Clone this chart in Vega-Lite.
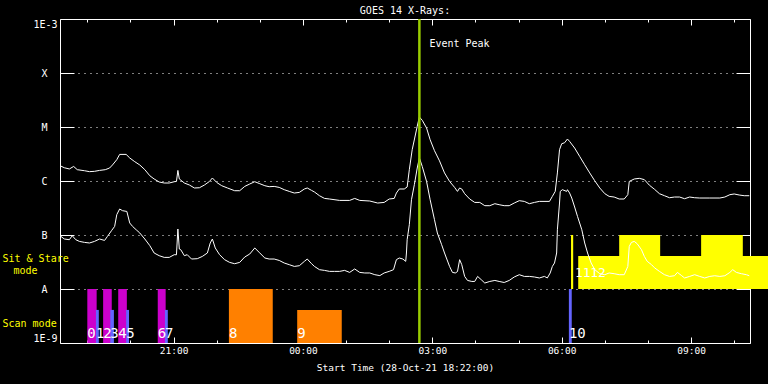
{
"$schema": "https://vega.github.io/schema/vega-lite/v6.json",
"autosize": {"type": "none"},
"padding": {"left": 60, "top": 19, "right": 18, "bottom": 41},
"width": 690,
"height": 324,
"background": "black",
"config": {
  "view": {"stroke": null},
  "axis": {"domainColor": "white", "tickColor": "white", "labelColor": "white", "titleColor": "white", "labelFont": "DejaVu Sans Mono", "titleFont": "DejaVu Sans Mono", "labelFontSize": 10, "titleFontSize": 9.5, "titleFontWeight": "normal", "grid": false, "domain": false, "labels": false, "zindex": 1, "tickWidth": 1, "domainWidth": 1, "title": null}
},
"title": {"text": "GOES 14 X-Rays:", "color": "white", "font": "DejaVu Sans Mono", "fontSize": 10, "fontWeight": "normal", "anchor": "middle", "frame": "group", "offset": 2},
"datasets": {
  "obs": [
    {"n": 0, "mode": "scan", "kind": "raster", "start": "2021-10-28T19:00Z", "end": "2021-10-28T19:13Z", "lo": 1e-9, "hi": 1e-8},
    {"n": 2, "mode": "scan", "kind": "raster", "start": "2021-10-28T19:22Z", "end": "2021-10-28T19:34Z", "lo": 1e-9, "hi": 1e-8},
    {"n": 4, "mode": "scan", "kind": "raster", "start": "2021-10-28T19:43Z", "end": "2021-10-28T19:55Z", "lo": 1e-9, "hi": 1e-8},
    {"n": 6, "mode": "scan", "kind": "raster", "start": "2021-10-28T20:38Z", "end": "2021-10-28T20:49Z", "lo": 1e-9, "hi": 1e-8},
    {"n": 1, "mode": "scan", "kind": "slit", "start": "2021-10-28T19:12Z", "end": "2021-10-28T19:16Z", "lo": 1e-9, "hi": 4.1e-9},
    {"n": 3, "mode": "scan", "kind": "slit", "start": "2021-10-28T19:32Z", "end": "2021-10-28T19:37Z", "lo": 1e-9, "hi": 4.1e-9},
    {"n": 5, "mode": "scan", "kind": "slit", "start": "2021-10-28T19:54Z", "end": "2021-10-28T19:58Z", "lo": 1e-9, "hi": 4.1e-9},
    {"n": 7, "mode": "scan", "kind": "slit", "start": "2021-10-28T20:48Z", "end": "2021-10-28T20:52Z", "lo": 1e-9, "hi": 4.1e-9},
    {"n": 8, "mode": "scan", "kind": "large raster", "start": "2021-10-28T22:17Z", "end": "2021-10-28T23:18Z", "lo": 1e-9, "hi": 1e-8},
    {"n": 9, "mode": "scan", "kind": "large raster", "start": "2021-10-28T23:52Z", "end": "2021-10-29T00:54Z", "lo": 1e-9, "hi": 4.1e-9},
    {"n": 10, "mode": "scan", "kind": "slit", "start": "2021-10-29T06:10Z", "end": "2021-10-29T06:14Z", "lo": 1e-9, "hi": 1e-8},
    {"n": 11, "mode": "sit", "kind": "sit-and-stare", "start": "2021-10-29T06:13Z", "end": "2021-10-29T06:16Z", "lo": 1e-8, "hi": 1e-7},
    {"n": 12, "mode": "sit", "kind": "sit-and-stare", "start": "2021-10-29T06:23Z", "end": "2021-10-29T11:30Z", "lo": 1e-8, "hi": 4.1e-8},
    {"n": null, "mode": "sit", "kind": "sit-and-stare", "start": "2021-10-29T07:20Z", "end": "2021-10-29T08:17Z", "lo": 1e-8, "hi": 1e-7},
    {"n": null, "mode": "sit", "kind": "sit-and-stare", "start": "2021-10-29T09:14Z", "end": "2021-10-29T10:12Z", "lo": 1e-8, "hi": 1e-7}
  ],
  "event": [{"time": "2021-10-29T02:42Z", "label": "Event Peak"}],
  "goes": [
    {"channel": "long", "time": "2021-10-28T18:22Z", "flux": 1.92e-6},
    {"channel": "long", "time": "2021-10-28T18:28Z", "flux": 1.76e-6},
    {"channel": "long", "time": "2021-10-28T18:35Z", "flux": 1.67e-6},
    {"channel": "long", "time": "2021-10-28T18:41Z", "flux": 1.86e-6},
    {"channel": "long", "time": "2021-10-28T18:46Z", "flux": 1.62e-6},
    {"channel": "long", "time": "2021-10-28T18:56Z", "flux": 1.55e-6},
    {"channel": "long", "time": "2021-10-28T19:03Z", "flux": 1.49e-6},
    {"channel": "long", "time": "2021-10-28T19:10Z", "flux": 1.51e-6},
    {"channel": "long", "time": "2021-10-28T19:17Z", "flux": 1.57e-6},
    {"channel": "long", "time": "2021-10-28T19:25Z", "flux": 1.62e-6},
    {"channel": "long", "time": "2021-10-28T19:31Z", "flux": 1.74e-6},
    {"channel": "long", "time": "2021-10-28T19:35Z", "flux": 1.98e-6},
    {"channel": "long", "time": "2021-10-28T19:41Z", "flux": 2.48e-6},
    {"channel": "long", "time": "2021-10-28T19:45Z", "flux": 3.11e-6},
    {"channel": "long", "time": "2021-10-28T19:54Z", "flux": 3.11e-6},
    {"channel": "long", "time": "2021-10-28T19:59Z", "flux": 2.67e-6},
    {"channel": "long", "time": "2021-10-28T20:06Z", "flux": 2.28e-6},
    {"channel": "long", "time": "2021-10-28T20:13Z", "flux": 1.98e-6},
    {"channel": "long", "time": "2021-10-28T20:20Z", "flux": 1.62e-6},
    {"channel": "long", "time": "2021-10-28T20:27Z", "flux": 1.25e-6},
    {"channel": "long", "time": "2021-10-28T20:33Z", "flux": 1.09e-6},
    {"channel": "long", "time": "2021-10-28T20:40Z", "flux": 9.58e-7},
    {"channel": "long", "time": "2021-10-28T20:47Z", "flux": 9.18e-7},
    {"channel": "long", "time": "2021-10-28T20:54Z", "flux": 9.18e-7},
    {"channel": "long", "time": "2021-10-28T21:01Z", "flux": 9.7e-7},
    {"channel": "long", "time": "2021-10-28T21:04Z", "flux": 9.8e-7},
    {"channel": "long", "time": "2021-10-28T21:06Z", "flux": 1.57e-6},
    {"channel": "long", "time": "2021-10-28T21:08Z", "flux": 1.09e-6},
    {"channel": "long", "time": "2021-10-28T21:15Z", "flux": 9.18e-7},
    {"channel": "long", "time": "2021-10-28T21:22Z", "flux": 8.43e-7},
    {"channel": "long", "time": "2021-10-28T21:29Z", "flux": 7.42e-7},
    {"channel": "long", "time": "2021-10-28T21:36Z", "flux": 7.5e-7},
    {"channel": "long", "time": "2021-10-28T21:43Z", "flux": 8.43e-7},
    {"channel": "long", "time": "2021-10-28T21:50Z", "flux": 9.83e-7},
    {"channel": "long", "time": "2021-10-28T21:54Z", "flux": 1.137e-6},
    {"channel": "long", "time": "2021-10-28T22:00Z", "flux": 9.4e-7},
    {"channel": "long", "time": "2021-10-28T22:07Z", "flux": 8.18e-7},
    {"channel": "long", "time": "2021-10-28T22:15Z", "flux": 7.42e-7},
    {"channel": "long", "time": "2021-10-28T22:25Z", "flux": 6.61e-7},
    {"channel": "long", "time": "2021-10-28T22:32Z", "flux": 6.61e-7},
    {"channel": "long", "time": "2021-10-28T22:39Z", "flux": 7.94e-7},
    {"channel": "long", "time": "2021-10-28T22:46Z", "flux": 8.8e-7},
    {"channel": "long", "time": "2021-10-28T22:53Z", "flux": 9.7e-7},
    {"channel": "long", "time": "2021-10-28T23:00Z", "flux": 8.91e-7},
    {"channel": "long", "time": "2021-10-28T23:07Z", "flux": 8.18e-7},
    {"channel": "long", "time": "2021-10-28T23:13Z", "flux": 7.84e-7},
    {"channel": "long", "time": "2021-10-28T23:20Z", "flux": 7.94e-7},
    {"channel": "long", "time": "2021-10-28T23:27Z", "flux": 7.61e-7},
    {"channel": "long", "time": "2021-10-28T23:34Z", "flux": 6.9e-7},
    {"channel": "long", "time": "2021-10-28T23:41Z", "flux": 6.42e-7},
    {"channel": "long", "time": "2021-10-28T23:48Z", "flux": 5.99e-7},
    {"channel": "long", "time": "2021-10-28T23:55Z", "flux": 6.15e-7},
    {"channel": "long", "time": "2021-10-29T00:02Z", "flux": 7.11e-7},
    {"channel": "long", "time": "2021-10-29T00:06Z", "flux": 7.42e-7},
    {"channel": "long", "time": "2021-10-29T00:12Z", "flux": 6.7e-7},
    {"channel": "long", "time": "2021-10-29T00:16Z", "flux": 6.26e-7},
    {"channel": "long", "time": "2021-10-29T00:23Z", "flux": 5.34e-7},
    {"channel": "long", "time": "2021-10-29T00:30Z", "flux": 4.76e-7},
    {"channel": "long", "time": "2021-10-29T00:37Z", "flux": 4.64e-7},
    {"channel": "long", "time": "2021-10-29T00:51Z", "flux": 4.37e-7},
    {"channel": "long", "time": "2021-10-29T01:05Z", "flux": 4.37e-7},
    {"channel": "long", "time": "2021-10-29T01:12Z", "flux": 4.76e-7},
    {"channel": "long", "time": "2021-10-29T01:19Z", "flux": 4.37e-7},
    {"channel": "long", "time": "2021-10-29T01:33Z", "flux": 4.26e-7},
    {"channel": "long", "time": "2021-10-29T01:44Z", "flux": 3.91e-7},
    {"channel": "long", "time": "2021-10-29T01:53Z", "flux": 4.01e-7},
    {"channel": "long", "time": "2021-10-29T02:00Z", "flux": 4.64e-7},
    {"channel": "long", "time": "2021-10-29T02:07Z", "flux": 4.76e-7},
    {"channel": "long", "time": "2021-10-29T02:10Z", "flux": 5.99e-7},
    {"channel": "long", "time": "2021-10-29T02:14Z", "flux": 7.11e-7},
    {"channel": "long", "time": "2021-10-29T02:21Z", "flux": 7.11e-7},
    {"channel": "long", "time": "2021-10-29T02:25Z", "flux": 7.74e-7},
    {"channel": "long", "time": "2021-10-29T02:28Z", "flux": 1.62e-6},
    {"channel": "long", "time": "2021-10-29T02:32Z", "flux": 3.8e-6},
    {"channel": "long", "time": "2021-10-29T02:37Z", "flux": 7.74e-6},
    {"channel": "long", "time": "2021-10-29T02:39Z", "flux": 1.03e-5},
    {"channel": "long", "time": "2021-10-29T02:42Z", "flux": 1.53e-5},
    {"channel": "long", "time": "2021-10-29T02:46Z", "flux": 1.33e-5},
    {"channel": "long", "time": "2021-10-29T02:52Z", "flux": 9.58e-6},
    {"channel": "long", "time": "2021-10-29T02:57Z", "flux": 5.8e-6},
    {"channel": "long", "time": "2021-10-29T03:03Z", "flux": 3.64e-6},
    {"channel": "long", "time": "2021-10-29T03:10Z", "flux": 2.36e-6},
    {"channel": "long", "time": "2021-10-29T03:17Z", "flux": 1.41e-6},
    {"channel": "long", "time": "2021-10-29T03:24Z", "flux": 9.83e-7},
    {"channel": "long", "time": "2021-10-29T03:31Z", "flux": 7.61e-7},
    {"channel": "long", "time": "2021-10-29T03:35Z", "flux": 6.42e-7},
    {"channel": "long", "time": "2021-10-29T03:38Z", "flux": 7.42e-7},
    {"channel": "long", "time": "2021-10-29T03:41Z", "flux": 7.11e-7},
    {"channel": "long", "time": "2021-10-29T03:45Z", "flux": 5.82e-7},
    {"channel": "long", "time": "2021-10-29T03:52Z", "flux": 4.64e-7},
    {"channel": "long", "time": "2021-10-29T03:59Z", "flux": 4.01e-7},
    {"channel": "long", "time": "2021-10-29T04:06Z", "flux": 4.01e-7},
    {"channel": "long", "time": "2021-10-29T04:13Z", "flux": 3.49e-7},
    {"channel": "long", "time": "2021-10-29T04:20Z", "flux": 3.49e-7},
    {"channel": "long", "time": "2021-10-29T04:27Z", "flux": 3.8e-7},
    {"channel": "long", "time": "2021-10-29T04:33Z", "flux": 3.64e-7},
    {"channel": "long", "time": "2021-10-29T04:40Z", "flux": 3.49e-7},
    {"channel": "long", "time": "2021-10-29T04:47Z", "flux": 3.49e-7},
    {"channel": "long", "time": "2021-10-29T04:54Z", "flux": 3.91e-7},
    {"channel": "long", "time": "2021-10-29T05:01Z", "flux": 4.32e-7},
    {"channel": "long", "time": "2021-10-29T05:08Z", "flux": 4.19e-7},
    {"channel": "long", "time": "2021-10-29T05:15Z", "flux": 3.8e-7},
    {"channel": "long", "time": "2021-10-29T05:22Z", "flux": 4.01e-7},
    {"channel": "long", "time": "2021-10-29T05:29Z", "flux": 4.19e-7},
    {"channel": "long", "time": "2021-10-29T05:43Z", "flux": 4.19e-7},
    {"channel": "long", "time": "2021-10-29T05:47Z", "flux": 5.19e-7},
    {"channel": "long", "time": "2021-10-29T05:51Z", "flux": 6.42e-7},
    {"channel": "long", "time": "2021-10-29T05:54Z", "flux": 1.41e-6},
    {"channel": "long", "time": "2021-10-29T05:57Z", "flux": 3.8e-6},
    {"channel": "long", "time": "2021-10-29T06:00Z", "flux": 4.9e-6},
    {"channel": "long", "time": "2021-10-29T06:04Z", "flux": 5.1e-6},
    {"channel": "long", "time": "2021-10-29T06:08Z", "flux": 5.99e-6},
    {"channel": "long", "time": "2021-10-29T06:11Z", "flux": 5.41e-6},
    {"channel": "long", "time": "2021-10-29T06:18Z", "flux": 4.08e-6},
    {"channel": "long", "time": "2021-10-29T06:25Z", "flux": 2.86e-6},
    {"channel": "long", "time": "2021-10-29T06:32Z", "flux": 2.0e-6},
    {"channel": "long", "time": "2021-10-29T06:39Z", "flux": 1.41e-6},
    {"channel": "long", "time": "2021-10-29T06:46Z", "flux": 1.01e-6},
    {"channel": "long", "time": "2021-10-29T06:53Z", "flux": 7.42e-7},
    {"channel": "long", "time": "2021-10-29T07:00Z", "flux": 5.82e-7},
    {"channel": "long", "time": "2021-10-29T07:06Z", "flux": 5.19e-7},
    {"channel": "long", "time": "2021-10-29T07:13Z", "flux": 5.05e-7},
    {"channel": "long", "time": "2021-10-29T07:20Z", "flux": 4.64e-7},
    {"channel": "long", "time": "2021-10-29T07:27Z", "flux": 4.64e-7},
    {"channel": "long", "time": "2021-10-29T07:32Z", "flux": 5.58e-7},
    {"channel": "long", "time": "2021-10-29T07:34Z", "flux": 9.83e-7},
    {"channel": "long", "time": "2021-10-29T07:41Z", "flux": 1.09e-6},
    {"channel": "long", "time": "2021-10-29T07:48Z", "flux": 1.12e-6},
    {"channel": "long", "time": "2021-10-29T07:55Z", "flux": 1.06e-6},
    {"channel": "long", "time": "2021-10-29T08:02Z", "flux": 8.36e-7},
    {"channel": "long", "time": "2021-10-29T08:09Z", "flux": 7.05e-7},
    {"channel": "long", "time": "2021-10-29T08:16Z", "flux": 5.82e-7},
    {"channel": "long", "time": "2021-10-29T08:23Z", "flux": 5.34e-7},
    {"channel": "long", "time": "2021-10-29T08:30Z", "flux": 4.9e-7},
    {"channel": "long", "time": "2021-10-29T08:37Z", "flux": 5.05e-7},
    {"channel": "long", "time": "2021-10-29T08:44Z", "flux": 5.05e-7},
    {"channel": "long", "time": "2021-10-29T08:51Z", "flux": 4.7e-7},
    {"channel": "long", "time": "2021-10-29T08:58Z", "flux": 5.05e-7},
    {"channel": "long", "time": "2021-10-29T09:05Z", "flux": 4.9e-7},
    {"channel": "long", "time": "2021-10-29T09:12Z", "flux": 4.84e-7},
    {"channel": "long", "time": "2021-10-29T09:26Z", "flux": 4.84e-7},
    {"channel": "long", "time": "2021-10-29T09:40Z", "flux": 4.84e-7},
    {"channel": "long", "time": "2021-10-29T09:47Z", "flux": 5.05e-7},
    {"channel": "long", "time": "2021-10-29T09:54Z", "flux": 5.58e-7},
    {"channel": "long", "time": "2021-10-29T10:00Z", "flux": 5.75e-7},
    {"channel": "long", "time": "2021-10-29T10:07Z", "flux": 5.5e-7},
    {"channel": "long", "time": "2021-10-29T10:14Z", "flux": 5.34e-7},
    {"channel": "long", "time": "2021-10-29T10:21Z", "flux": 5.34e-7},
    {"channel": "short", "time": "2021-10-28T18:22Z", "flux": 9.7e-8},
    {"channel": "short", "time": "2021-10-28T18:28Z", "flux": 8.43e-8},
    {"channel": "short", "time": "2021-10-28T18:35Z", "flux": 8.18e-8},
    {"channel": "short", "time": "2021-10-28T18:39Z", "flux": 9.7e-8},
    {"channel": "short", "time": "2021-10-28T18:44Z", "flux": 8.18e-8},
    {"channel": "short", "time": "2021-10-28T18:49Z", "flux": 7.61e-8},
    {"channel": "short", "time": "2021-10-28T18:56Z", "flux": 7.3e-8},
    {"channel": "short", "time": "2021-10-28T19:03Z", "flux": 7.11e-8},
    {"channel": "short", "time": "2021-10-28T19:10Z", "flux": 7.61e-8},
    {"channel": "short", "time": "2021-10-28T19:17Z", "flux": 8.43e-8},
    {"channel": "short", "time": "2021-10-28T19:24Z", "flux": 7.94e-8},
    {"channel": "short", "time": "2021-10-28T19:28Z", "flux": 9.42e-8},
    {"channel": "short", "time": "2021-10-28T19:34Z", "flux": 1.22e-7},
    {"channel": "short", "time": "2021-10-28T19:38Z", "flux": 1.44e-7},
    {"channel": "short", "time": "2021-10-28T19:41Z", "flux": 2.38e-7},
    {"channel": "short", "time": "2021-10-28T19:45Z", "flux": 3.03e-7},
    {"channel": "short", "time": "2021-10-28T19:49Z", "flux": 2.82e-7},
    {"channel": "short", "time": "2021-10-28T19:55Z", "flux": 2.73e-7},
    {"channel": "short", "time": "2021-10-28T19:59Z", "flux": 1.67e-7},
    {"channel": "short", "time": "2021-10-28T20:03Z", "flux": 1.44e-7},
    {"channel": "short", "time": "2021-10-28T20:08Z", "flux": 1.25e-7},
    {"channel": "short", "time": "2021-10-28T20:13Z", "flux": 1.09e-7},
    {"channel": "short", "time": "2021-10-28T20:20Z", "flux": 8.43e-8},
    {"channel": "short", "time": "2021-10-28T20:27Z", "flux": 6.34e-8},
    {"channel": "short", "time": "2021-10-28T20:33Z", "flux": 4.64e-8},
    {"channel": "short", "time": "2021-10-28T20:40Z", "flux": 4.14e-8},
    {"channel": "short", "time": "2021-10-28T20:47Z", "flux": 3.85e-8},
    {"channel": "short", "time": "2021-10-28T20:54Z", "flux": 3.85e-8},
    {"channel": "short", "time": "2021-10-28T21:01Z", "flux": 4.32e-8},
    {"channel": "short", "time": "2021-10-28T21:04Z", "flux": 4.3e-8},
    {"channel": "short", "time": "2021-10-28T21:06Z", "flux": 1.29e-7},
    {"channel": "short", "time": "2021-10-28T21:08Z", "flux": 5.5e-8},
    {"channel": "short", "time": "2021-10-28T21:10Z", "flux": 5.34e-8},
    {"channel": "short", "time": "2021-10-28T21:15Z", "flux": 4.14e-8},
    {"channel": "short", "time": "2021-10-28T21:19Z", "flux": 4.32e-8},
    {"channel": "short", "time": "2021-10-28T21:25Z", "flux": 3.59e-8},
    {"channel": "short", "time": "2021-10-28T21:33Z", "flux": 3.64e-8},
    {"channel": "short", "time": "2021-10-28T21:40Z", "flux": 4.01e-8},
    {"channel": "short", "time": "2021-10-28T21:47Z", "flux": 4.64e-8},
    {"channel": "short", "time": "2021-10-28T21:51Z", "flux": 7.11e-8},
    {"channel": "short", "time": "2021-10-28T21:54Z", "flux": 8.43e-8},
    {"channel": "short", "time": "2021-10-28T21:58Z", "flux": 5.75e-8},
    {"channel": "short", "time": "2021-10-28T22:04Z", "flux": 4.32e-8},
    {"channel": "short", "time": "2021-10-28T22:11Z", "flux": 3.49e-8},
    {"channel": "short", "time": "2021-10-28T22:18Z", "flux": 3.11e-8},
    {"channel": "short", "time": "2021-10-28T22:25Z", "flux": 2.94e-8},
    {"channel": "short", "time": "2021-10-28T22:32Z", "flux": 3.11e-8},
    {"channel": "short", "time": "2021-10-28T22:39Z", "flux": 3.91e-8},
    {"channel": "short", "time": "2021-10-28T22:46Z", "flux": 4.45e-8},
    {"channel": "short", "time": "2021-10-28T22:53Z", "flux": 5.75e-8},
    {"channel": "short", "time": "2021-10-28T23:00Z", "flux": 4.64e-8},
    {"channel": "short", "time": "2021-10-28T23:07Z", "flux": 3.75e-8},
    {"channel": "short", "time": "2021-10-28T23:13Z", "flux": 3.59e-8},
    {"channel": "short", "time": "2021-10-28T23:20Z", "flux": 3.59e-8},
    {"channel": "short", "time": "2021-10-28T23:27Z", "flux": 3.38e-8},
    {"channel": "short", "time": "2021-10-28T23:34Z", "flux": 3.03e-8},
    {"channel": "short", "time": "2021-10-28T23:41Z", "flux": 2.82e-8},
    {"channel": "short", "time": "2021-10-28T23:48Z", "flux": 2.62e-8},
    {"channel": "short", "time": "2021-10-28T23:55Z", "flux": 2.7e-8},
    {"channel": "short", "time": "2021-10-29T00:02Z", "flux": 3.25e-8},
    {"channel": "short", "time": "2021-10-29T00:06Z", "flux": 3.59e-8},
    {"channel": "short", "time": "2021-10-29T00:12Z", "flux": 2.94e-8},
    {"channel": "short", "time": "2021-10-29T00:16Z", "flux": 2.62e-8},
    {"channel": "short", "time": "2021-10-29T00:23Z", "flux": 2.28e-8},
    {"channel": "short", "time": "2021-10-29T00:30Z", "flux": 2.21e-8},
    {"channel": "short", "time": "2021-10-29T00:37Z", "flux": 2.12e-8},
    {"channel": "short", "time": "2021-10-29T00:44Z", "flux": 2.12e-8},
    {"channel": "short", "time": "2021-10-29T00:51Z", "flux": 2.12e-8},
    {"channel": "short", "time": "2021-10-29T00:58Z", "flux": 2.21e-8},
    {"channel": "short", "time": "2021-10-29T01:05Z", "flux": 2.03e-8},
    {"channel": "short", "time": "2021-10-29T01:12Z", "flux": 2.35e-8},
    {"channel": "short", "time": "2021-10-29T01:19Z", "flux": 2.03e-8},
    {"channel": "short", "time": "2021-10-29T01:26Z", "flux": 1.98e-8},
    {"channel": "short", "time": "2021-10-29T01:33Z", "flux": 1.98e-8},
    {"channel": "short", "time": "2021-10-29T01:40Z", "flux": 1.84e-8},
    {"channel": "short", "time": "2021-10-29T01:47Z", "flux": 1.77e-8},
    {"channel": "short", "time": "2021-10-29T01:53Z", "flux": 1.98e-8},
    {"channel": "short", "time": "2021-10-29T02:00Z", "flux": 2.12e-8},
    {"channel": "short", "time": "2021-10-29T02:06Z", "flux": 2.28e-8},
    {"channel": "short", "time": "2021-10-29T02:10Z", "flux": 3.49e-8},
    {"channel": "short", "time": "2021-10-29T02:14Z", "flux": 3.75e-8},
    {"channel": "short", "time": "2021-10-29T02:19Z", "flux": 3.59e-8},
    {"channel": "short", "time": "2021-10-29T02:23Z", "flux": 3.25e-8},
    {"channel": "short", "time": "2021-10-29T02:24Z", "flux": 4.64e-8},
    {"channel": "short", "time": "2021-10-29T02:25Z", "flux": 8.18e-8},
    {"channel": "short", "time": "2021-10-29T02:28Z", "flux": 1.55e-7},
    {"channel": "short", "time": "2021-10-29T02:31Z", "flux": 4.5e-7},
    {"channel": "short", "time": "2021-10-29T02:35Z", "flux": 8.55e-7},
    {"channel": "short", "time": "2021-10-29T02:39Z", "flux": 1.74e-6},
    {"channel": "short", "time": "2021-10-29T02:42Z", "flux": 2.67e-6},
    {"channel": "short", "time": "2021-10-29T02:46Z", "flux": 1.86e-6},
    {"channel": "short", "time": "2021-10-29T02:52Z", "flux": 9.82e-7},
    {"channel": "short", "time": "2021-10-29T02:57Z", "flux": 4.5e-7},
    {"channel": "short", "time": "2021-10-29T03:03Z", "flux": 1.92e-7},
    {"channel": "short", "time": "2021-10-29T03:07Z", "flux": 1.09e-7},
    {"channel": "short", "time": "2021-10-29T03:13Z", "flux": 6.61e-8},
    {"channel": "short", "time": "2021-10-29T03:17Z", "flux": 4.64e-8},
    {"channel": "short", "time": "2021-10-29T03:24Z", "flux": 2.62e-8},
    {"channel": "short", "time": "2021-10-29T03:28Z", "flux": 2.03e-8},
    {"channel": "short", "time": "2021-10-29T03:32Z", "flux": 1.98e-8},
    {"channel": "short", "time": "2021-10-29T03:35Z", "flux": 2.1e-8},
    {"channel": "short", "time": "2021-10-29T03:38Z", "flux": 3.49e-8},
    {"channel": "short", "time": "2021-10-29T03:41Z", "flux": 2.82e-8},
    {"channel": "short", "time": "2021-10-29T03:45Z", "flux": 1.71e-8},
    {"channel": "short", "time": "2021-10-29T03:49Z", "flux": 1.44e-8},
    {"channel": "short", "time": "2021-10-29T03:55Z", "flux": 1.38e-8},
    {"channel": "short", "time": "2021-10-29T03:59Z", "flux": 1.38e-8},
    {"channel": "short", "time": "2021-10-29T04:03Z", "flux": 1.71e-8},
    {"channel": "short", "time": "2021-10-29T04:08Z", "flux": 1.49e-8},
    {"channel": "short", "time": "2021-10-29T04:13Z", "flux": 1.29e-8},
    {"channel": "short", "time": "2021-10-29T04:20Z", "flux": 1.38e-8},
    {"channel": "short", "time": "2021-10-29T04:27Z", "flux": 1.44e-8},
    {"channel": "short", "time": "2021-10-29T04:33Z", "flux": 1.38e-8},
    {"channel": "short", "time": "2021-10-29T04:40Z", "flux": 1.32e-8},
    {"channel": "short", "time": "2021-10-29T04:47Z", "flux": 1.44e-8},
    {"channel": "short", "time": "2021-10-29T04:54Z", "flux": 1.67e-8},
    {"channel": "short", "time": "2021-10-29T05:01Z", "flux": 1.84e-8},
    {"channel": "short", "time": "2021-10-29T05:08Z", "flux": 1.71e-8},
    {"channel": "short", "time": "2021-10-29T05:15Z", "flux": 1.71e-8},
    {"channel": "short", "time": "2021-10-29T05:22Z", "flux": 1.67e-8},
    {"channel": "short", "time": "2021-10-29T05:29Z", "flux": 1.6e-8},
    {"channel": "short", "time": "2021-10-29T05:36Z", "flux": 1.71e-8},
    {"channel": "short", "time": "2021-10-29T05:40Z", "flux": 1.6e-8},
    {"channel": "short", "time": "2021-10-29T05:44Z", "flux": 1.98e-8},
    {"channel": "short", "time": "2021-10-29T05:47Z", "flux": 2.62e-8},
    {"channel": "short", "time": "2021-10-29T05:50Z", "flux": 3.03e-8},
    {"channel": "short", "time": "2021-10-29T05:53Z", "flux": 4.64e-8},
    {"channel": "short", "time": "2021-10-29T05:54Z", "flux": 1.25e-7},
    {"channel": "short", "time": "2021-10-29T05:57Z", "flux": 3.91e-7},
    {"channel": "short", "time": "2021-10-29T05:58Z", "flux": 6.42e-7},
    {"channel": "short", "time": "2021-10-29T06:01Z", "flux": 6.9e-7},
    {"channel": "short", "time": "2021-10-29T06:07Z", "flux": 6.42e-7},
    {"channel": "short", "time": "2021-10-29T06:08Z", "flux": 6.9e-7},
    {"channel": "short", "time": "2021-10-29T06:11Z", "flux": 5.99e-7},
    {"channel": "short", "time": "2021-10-29T06:14Z", "flux": 4.84e-7},
    {"channel": "short", "time": "2021-10-29T06:18Z", "flux": 3.3e-7},
    {"channel": "short", "time": "2021-10-29T06:22Z", "flux": 2.21e-7},
    {"channel": "short", "time": "2021-10-29T06:28Z", "flux": 1.25e-7},
    {"channel": "short", "time": "2021-10-29T06:32Z", "flux": 7.11e-8},
    {"channel": "short", "time": "2021-10-29T06:36Z", "flux": 4.64e-8},
    {"channel": "short", "time": "2021-10-29T06:41Z", "flux": 3.03e-8},
    {"channel": "short", "time": "2021-10-29T06:46Z", "flux": 2.28e-8},
    {"channel": "short", "time": "2021-10-29T06:53Z", "flux": 1.92e-8},
    {"channel": "short", "time": "2021-10-29T07:00Z", "flux": 1.84e-8},
    {"channel": "short", "time": "2021-10-29T07:06Z", "flux": 1.98e-8},
    {"channel": "short", "time": "2021-10-29T07:13Z", "flux": 1.92e-8},
    {"channel": "short", "time": "2021-10-29T07:20Z", "flux": 1.84e-8},
    {"channel": "short", "time": "2021-10-29T07:27Z", "flux": 1.84e-8},
    {"channel": "short", "time": "2021-10-29T07:32Z", "flux": 2.62e-8},
    {"channel": "short", "time": "2021-10-29T07:34Z", "flux": 6.15e-8},
    {"channel": "short", "time": "2021-10-29T07:37Z", "flux": 7.3e-8},
    {"channel": "short", "time": "2021-10-29T07:41Z", "flux": 7.61e-8},
    {"channel": "short", "time": "2021-10-29T07:45Z", "flux": 6.9e-8},
    {"channel": "short", "time": "2021-10-29T07:51Z", "flux": 5.34e-8},
    {"channel": "short", "time": "2021-10-29T07:55Z", "flux": 4.01e-8},
    {"channel": "short", "time": "2021-10-29T07:59Z", "flux": 3.25e-8},
    {"channel": "short", "time": "2021-10-29T08:05Z", "flux": 2.82e-8},
    {"channel": "short", "time": "2021-10-29T08:09Z", "flux": 2.48e-8},
    {"channel": "short", "time": "2021-10-29T08:16Z", "flux": 2.12e-8},
    {"channel": "short", "time": "2021-10-29T08:23Z", "flux": 1.84e-8},
    {"channel": "short", "time": "2021-10-29T08:30Z", "flux": 1.71e-8},
    {"channel": "short", "time": "2021-10-29T08:37Z", "flux": 1.76e-8},
    {"channel": "short", "time": "2021-10-29T08:41Z", "flux": 2.03e-8},
    {"channel": "short", "time": "2021-10-29T08:47Z", "flux": 1.76e-8},
    {"channel": "short", "time": "2021-10-29T08:51Z", "flux": 1.6e-8},
    {"channel": "short", "time": "2021-10-29T08:58Z", "flux": 1.71e-8},
    {"channel": "short", "time": "2021-10-29T09:05Z", "flux": 1.84e-8},
    {"channel": "short", "time": "2021-10-29T09:12Z", "flux": 1.71e-8},
    {"channel": "short", "time": "2021-10-29T09:19Z", "flux": 1.6e-8},
    {"channel": "short", "time": "2021-10-29T09:26Z", "flux": 1.71e-8},
    {"channel": "short", "time": "2021-10-29T09:33Z", "flux": 1.76e-8},
    {"channel": "short", "time": "2021-10-29T09:40Z", "flux": 1.71e-8},
    {"channel": "short", "time": "2021-10-29T09:47Z", "flux": 1.76e-8},
    {"channel": "short", "time": "2021-10-29T09:54Z", "flux": 2.03e-8},
    {"channel": "short", "time": "2021-10-29T09:58Z", "flux": 2.28e-8},
    {"channel": "short", "time": "2021-10-29T10:03Z", "flux": 2.03e-8},
    {"channel": "short", "time": "2021-10-29T10:10Z", "flux": 1.92e-8},
    {"channel": "short", "time": "2021-10-29T10:17Z", "flux": 1.84e-8},
    {"channel": "short", "time": "2021-10-29T10:21Z", "flux": 1.76e-8}
  ]
},
"resolve": {"axis": {"x": "independent", "y": "independent"}},
"layer": [
  {
    "data": {"name": "obs"},
    "mark": {"type": "rect", "clip": false},
    "encoding": {
      "x": {"field": "start", "type": "temporal",
        "scale": {"type": "utc", "nice": false, "domain": [{"year": 2021, "month": 10, "date": 28, "hours": 18, "minutes": 22, "utc": true}, {"year": 2021, "month": 10, "date": 29, "hours": 10, "minutes": 22, "utc": true}]},
        "axis": {"orient": "bottom", "domain": true, "values": [{"year": 2021, "month": 10, "date": 28, "hours": 21, "utc": true}, {"year": 2021, "month": 10, "date": 29, "hours": 0, "utc": true}, {"year": 2021, "month": 10, "date": 29, "hours": 3, "utc": true}, {"year": 2021, "month": 10, "date": 29, "hours": 6, "utc": true}, {"year": 2021, "month": 10, "date": 29, "hours": 9, "utc": true}], "tickSize": -6, "labels": true, "labelFontSize": 9.5, "labelExpr": "utcFormat(datum.value, '%H:%M')", "labelPadding": 8, "labelFlush": false, "labelOverlap": false, "title": "Start Time (28-Oct-21 18:22:00)", "titlePadding": 8}},
      "x2": {"field": "end"},
      "y": {"field": "lo", "type": "quantitative",
        "scale": {"type": "log", "nice": false, "domain": [1e-9, 1e-3]},
        "axis": {"orient": "left", "domain": true, "values": [1e-9, 1e-3], "tickSize": -14, "labels": true, "labelExpr": "datum.value > 1e-6 ? '1E-3' : '1E-9'", "labelFlush": true, "labelOverlap": false, "labelPadding": 17, "title": null}},
      "y2": {"field": "hi"},
      "color": {"field": "kind", "type": "nominal", "scale": {"domain": ["raster", "slit", "large raster", "sit-and-stare"], "range": ["#cc00cc", "#6464ff", "#ff8000", "#ffff00"]}, "legend": null}
    }
  },
  {
    "data": {"name": "goes"},
    "mark": {"type": "line", "color": "white", "strokeWidth": 1, "clip": true},
    "encoding": {
      "x": {"field": "time", "type": "temporal",
        "scale": {"type": "utc", "nice": false, "domain": [{"year": 2021, "month": 10, "date": 28, "hours": 18, "minutes": 22, "utc": true}, {"year": 2021, "month": 10, "date": 29, "hours": 10, "minutes": 22, "utc": true}]},
        "axis": {"orient": "top", "domain": true, "labels": false, "tickCount": 16, "tickSize": -3, "title": null}},
      "y": {"field": "flux", "type": "quantitative",
        "scale": {"type": "log", "nice": false, "domain": [1e-9, 1e-3]},
        "axis": {"orient": "right", "domain": true, "labels": false, "values": [1e-9, 1e-8, 1e-7, 1e-6, 1e-5, 1e-4, 1e-3], "tickSize": -14, "title": null}},
      "detail": {"field": "channel"}
    }
  },
  {
    "data": {"name": "obs"},
    "transform": [{"filter": "datum.n != null && datum.mode == 'scan'"}],
    "mark": {"type": "text", "align": "left", "baseline": "alphabetic", "color": "white", "font": "DejaVu Sans Mono", "fontSize": 14},
    "encoding": {
      "x": {"field": "start", "type": "temporal",
        "scale": {"type": "utc", "nice": false, "domain": [{"year": 2021, "month": 10, "date": 28, "hours": 18, "minutes": 22, "utc": true}, {"year": 2021, "month": 10, "date": 29, "hours": 10, "minutes": 22, "utc": true}]},
        "axis": {"orient": "bottom", "domain": false, "labels": false, "tickCount": 16, "tickSize": -3, "title": null}},
      "y": {"datum": 1.23e-9, "type": "quantitative",
        "scale": {"type": "log", "nice": false, "domain": [1e-9, 1e-3]},
        "axis": {"orient": "left", "domain": false, "ticks": false, "tickSize": 0, "labels": true, "values": [3.72e-8, 2.33e-9], "labelExpr": "datum.value > 1e-8 ? 'Sit & Stare' : 'Scan mode'", "labelAlign": "left", "labelColor": "#ffff00", "labelPadding": 58, "labelFlush": false, "labelOverlap": false, "title": null}},
      "text": {"field": "n", "type": "nominal"}
    }
  },
  {
    "data": {"name": "obs"},
    "transform": [{"filter": "datum.n == 11"}],
    "mark": {"type": "text", "align": "left", "baseline": "alphabetic", "color": "white", "font": "DejaVu Sans Mono", "fontSize": 13, "dx": 4},
    "encoding": {
      "x": {"field": "start", "type": "temporal",
        "scale": {"type": "utc", "nice": false, "domain": [{"year": 2021, "month": 10, "date": 28, "hours": 18, "minutes": 22, "utc": true}, {"year": 2021, "month": 10, "date": 29, "hours": 10, "minutes": 22, "utc": true}]},
        "axis": null},
      "y": {"datum": 1.7e-8, "type": "quantitative", "scale": {"type": "log", "nice": false, "domain": [1e-9, 1e-3]},
        "axis": {"orient": "left", "domain": false, "values": [1e-8, 1e-7, 1e-6, 1e-5, 1e-4], "tickSize": -14, "labels": true, "labelExpr": "datum.value > 5e-5 ? 'X' : datum.value > 5e-6 ? 'M' : datum.value > 5e-7 ? 'C' : datum.value > 5e-8 ? 'B' : 'A'", "labelFlush": false, "labelOverlap": false, "labelPadding": 27, "grid": true, "gridColor": "white", "gridDash": [1, 5], "gridOpacity": 1, "title": null}},
      "text": {"field": "n", "type": "nominal"}
    }
  },
  {
    "data": {"name": "obs"},
    "transform": [{"filter": "datum.n == 12"}],
    "mark": {"type": "text", "align": "left", "baseline": "alphabetic", "color": "white", "font": "DejaVu Sans Mono", "fontSize": 13, "dx": 12},
    "encoding": {
      "x": {"field": "start", "type": "temporal",
        "scale": {"type": "utc", "nice": false, "domain": [{"year": 2021, "month": 10, "date": 28, "hours": 18, "minutes": 22, "utc": true}, {"year": 2021, "month": 10, "date": 29, "hours": 10, "minutes": 22, "utc": true}]},
        "axis": null},
      "y": {"datum": 1.7e-8, "type": "quantitative", "scale": {"type": "log", "nice": false, "domain": [1e-9, 1e-3]},
        "axis": {"orient": "left", "domain": false, "ticks": false, "tickSize": 0, "labels": true, "values": [2.18e-8], "labelExpr": "'mode'", "labelAlign": "left", "labelColor": "#ffff00", "labelPadding": 47, "labelFlush": false, "labelOverlap": false, "title": null}},
      "text": {"field": "n", "type": "nominal"}
    }
  },
  {
    "data": {"name": "event"},
    "mark": {"type": "rule", "color": "#99cc00", "strokeWidth": 2.5},
    "encoding": {
      "x": {"field": "time", "type": "temporal",
        "scale": {"type": "utc", "nice": false, "domain": [{"year": 2021, "month": 10, "date": 28, "hours": 18, "minutes": 22, "utc": true}, {"year": 2021, "month": 10, "date": 29, "hours": 10, "minutes": 22, "utc": true}]},
        "axis": {"orient": "top", "domain": false, "labels": false, "values": [{"year": 2021, "month": 10, "date": 28, "hours": 21, "utc": true}, {"year": 2021, "month": 10, "date": 29, "hours": 0, "utc": true}, {"year": 2021, "month": 10, "date": 29, "hours": 3, "utc": true}, {"year": 2021, "month": 10, "date": 29, "hours": 6, "utc": true}, {"year": 2021, "month": 10, "date": 29, "hours": 9, "utc": true}], "tickSize": -6, "title": null}}
    }
  },
  {
    "data": {"name": "event"},
    "mark": {"type": "text", "align": "left", "baseline": "alphabetic", "color": "white", "font": "DejaVu Sans Mono", "fontSize": 10, "dx": 10},
    "encoding": {
      "x": {"field": "time", "type": "temporal",
        "scale": {"type": "utc", "nice": false, "domain": [{"year": 2021, "month": 10, "date": 28, "hours": 18, "minutes": 22, "utc": true}, {"year": 2021, "month": 10, "date": 29, "hours": 10, "minutes": 22, "utc": true}]},
        "axis": null},
      "y": {"datum": 3e-4, "type": "quantitative", "scale": {"type": "log", "nice": false, "domain": [1e-9, 1e-3]}, "axis": null},
      "text": {"field": "label", "type": "nominal"}
    }
  }
]
}
